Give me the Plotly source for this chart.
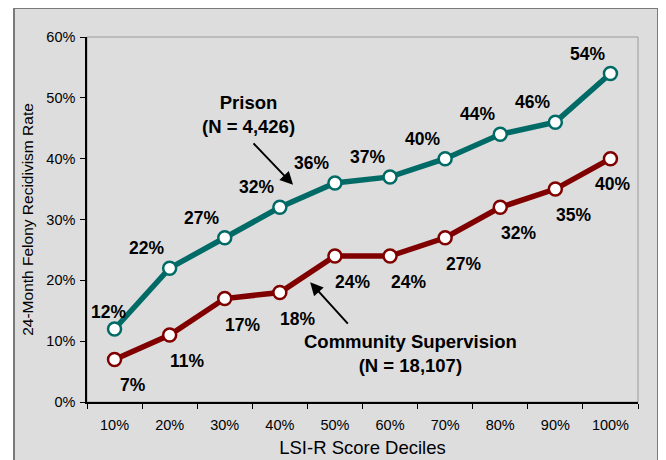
import plotly.graph_objects as go

deciles = ["10%", "20%", "30%", "40%", "50%", "60%", "70%", "80%", "90%", "100%"]
prison = [12, 22, 27, 32, 36, 37, 40, 44, 46, 54]
community = [7, 11, 17, 18, 24, 24, 27, 32, 35, 40]
y_ticks = [0, 10, 20, 30, 40, 50, 60]

# label offsets (pixels) - styling only
prison_shift = [(-6, 17)] + [(-23, 20)] * 9
community_shift = [(18, -26)] * 9 + [(2, -25)]

TEAL = "#006B66"
RED = "#800000"
FONT = "Arial, Liberation Sans, sans-serif"

fig = go.Figure()
fig.add_trace(go.Scatter(
    x=deciles, y=prison, mode="lines+markers",
    line=dict(color=TEAL, width=5.5),
    marker=dict(size=13, color="white", line=dict(color=TEAL, width=2.5)),
    showlegend=False, hoverinfo="skip"))
fig.add_trace(go.Scatter(
    x=deciles, y=community, mode="lines+markers",
    line=dict(color=RED, width=5.5),
    marker=dict(size=13, color="white", line=dict(color=RED, width=2.5)),
    showlegend=False, hoverinfo="skip"))

ann = []
for i, v in enumerate(prison):
    ann.append(dict(x=i, y=v, xref="x", yref="y", text=f"<b>{v}%</b>", showarrow=False,
                    xshift=prison_shift[i][0], yshift=prison_shift[i][1],
                    font=dict(size=17.5, color="black", family=FONT)))
for i, v in enumerate(community):
    ann.append(dict(x=i, y=v, xref="x", yref="y", text=f"<b>{v}%</b>", showarrow=False,
                    xshift=community_shift[i][0], yshift=community_shift[i][1],
                    font=dict(size=17.5, color="black", family=FONT)))

# series callouts
ann.append(dict(x=2.44, y=47.2, xref="x", yref="y", text="<b>Prison<br>(N = 4,426)</b>",
                showarrow=False, font=dict(size=18.5, color="black", family=FONT)))
ann.append(dict(x=5.38, y=8.05, xref="x", yref="y",
                text="<b>Community Supervision<br>(N = 18,107)</b>",
                showarrow=False, font=dict(size=18.5, color="black", family=FONT)))
ann.append(dict(x=3.24, y=35.7, xref="x", yref="y", text="", showarrow=True,
                ax=-41, ay=-43, arrowhead=2, arrowsize=1.3, arrowwidth=2, arrowcolor="black"))
ann.append(dict(x=3.55, y=19.7, xref="x", yref="y", text="", showarrow=True,
                ax=39, ay=43, arrowhead=2, arrowsize=1.3, arrowwidth=2, arrowcolor="black"))

shapes = [
    dict(type="rect", xref="paper", yref="paper", x0=-0.1325, x1=1.0363, y0=-0.25, y1=1.0795,
         fillcolor="#DDDDDD", line=dict(color="#7A7A7A", width=2), layer="below"),
    dict(type="rect", xref="paper", yref="paper", x0=0, x1=1, y0=0, y1=1,
         fillcolor="rgba(0,0,0,0)", line=dict(color="#9A9A9A", width=1), layer="below"),
]

fig.update_layout(
    width=658, height=452,
    margin=dict(l=79, r=28, t=29, b=58, autoexpand=False),
    paper_bgcolor="white", plot_bgcolor="rgba(0,0,0,0)",
    font=dict(family=FONT, color="black"),
    annotations=ann, shapes=shapes,
    xaxis=dict(type="category", categoryorder="array", categoryarray=deciles,
               tickson="boundaries", ticks="outside", ticklen=5, tickcolor="black",
               showline=True, linecolor="black", linewidth=1.5, showgrid=False,
               tickfont=dict(size=14.5), ticklabelstandoff=9, automargin=False,
               title=dict(text="LSI-R Score Deciles", font=dict(size=18.5), standoff=9),
               range=[-0.5, 9.5]),
    yaxis=dict(range=[0, 60], tickvals=y_ticks, ticktext=[f"{t}%" for t in y_ticks],
               ticks="outside", ticklen=5, tickcolor="black",
               showline=True, linecolor="black", linewidth=1.5, showgrid=False,
               zeroline=False, tickfont=dict(size=14.5), ticklabelstandoff=2, automargin=False,
               title=dict(text="24-Month Felony Recidivism Rate", font=dict(size=15.5), standoff=9)),
)

fig.write_html("out.html")
